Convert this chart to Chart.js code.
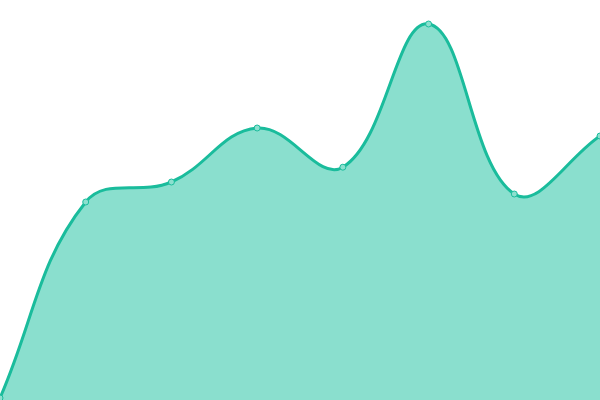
<!DOCTYPE html>
<html>
<head>
<meta charset="utf-8">
<script src="https://cdn.jsdelivr.net/npm/chart.js@4"></script>
<style>
  html, body { margin: 0; padding: 0; background: #fff; }
  #wrap { width: 600px; height: 400px; }
</style>
</head>
<body>
<div id="wrap"><canvas id="chart"></canvas></div>
<script>
const labels = ["1", "2", "3", "4", "5", "6", "7", "8"];
const values = [0.5, 49.5, 54.5, 68, 58.2, 94, 51.5, 66];
const yMin = 0;
const yMax = 100;

new Chart(document.getElementById("chart"), {
  type: "line",
  data: {
    labels,
    datasets: [{
      data: values,
      borderColor: "#1abc9c",
      backgroundColor: "rgba(22,192,158,.5)",
      borderWidth: 3,
      fill: true,
      tension: 0.4,
      pointRadius: 3,
      pointBorderWidth: 1,
      pointBackgroundColor: "#8ce0cf",
      pointBorderColor: "#1abc9c"
    }]
  },
  options: {
    responsive: true,
    maintainAspectRatio: false,
    animation: false,
    layout: { padding: 0, autoPadding: false },
    plugins: { legend: { display: false }, tooltip: { enabled: false } },
    scales: {
      x: { display: false, offset: false },
      y: { display: false, min: yMin, max: yMax }
    }
  }
});
</script>
</body>
</html>
